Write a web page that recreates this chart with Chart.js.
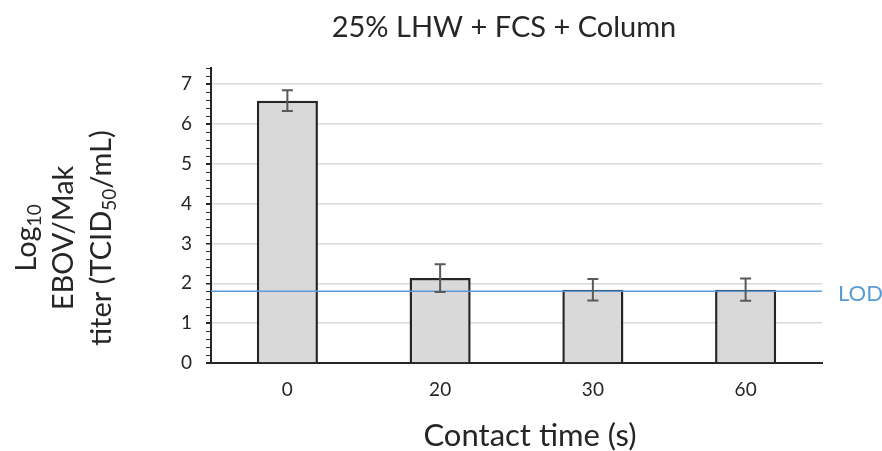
<!DOCTYPE html>
<html>
<head>
<meta charset="utf-8">
<script src="https://cdn.jsdelivr.net/npm/chart.js@4.4.1/dist/chart.umd.min.js"></script>
<style>
html,body{margin:0;padding:0;background:#fff;}
#wrap{width:882px;height:451px;position:relative;}
</style>
</head>
<body>
<div id="wrap"><canvas id="c" width="882" height="451"></canvas></div>
<script>
const categories = ['0', '20', '30', '60'];
const titerMeans = [6.58, 2.13, 1.84, 1.84];
const titerErrors = [0.26, 0.35, 0.27, 0.28];
const lodValue = 1.8;
const yMin = 0;
const yMax = 7.4;
const yStep = 1;
const yMinorStep = 0.2;
const chartTitle = '25% LHW + FCS + Column';
const xAxisTitle = 'Contact time (s)';
const yAxisTitleLines = [
  [{t: 'Log'}, {t: '10', sub: true}],
  [{t: 'EBOV/Mak'}],
  [{t: 'titer (TCID'}, {t: '50', sub: true}, {t: '/mL)'}]
];
const lodLabel = 'LOD';

const FONT = 'Lato, "Open Sans", "Liberation Sans", sans-serif';

function drawRich(ctx, segs, size) {
  const subSize = Math.round(size * 0.65);
  let total = 0;
  const widths = segs.map(s => {
    ctx.font = (s.sub ? subSize : size) + 'px ' + FONT;
    const w = ctx.measureText(s.t).width;
    total += w;
    return w;
  });
  let x = -total / 2;
  segs.forEach((s, i) => {
    ctx.font = (s.sub ? subSize : size) + 'px ' + FONT;
    ctx.fillText(s.t, x, s.sub ? size * 0.28 : 0);
    x += widths[i];
  });
}

const extras = {
  id: 'extras',
  afterDatasetsDraw(chart) {
    const ctx = chart.ctx;
    const y = chart.scales.y;
    const x = chart.scales.x;
    const area = chart.chartArea;
    ctx.save();
    // LOD line
    const ly = y.getPixelForValue(lodValue);
    ctx.strokeStyle = '#5b9bd5';
    ctx.lineWidth = 1.5;
    ctx.beginPath();
    ctx.moveTo(area.left, ly);
    ctx.lineTo(area.right, ly);
    ctx.stroke();
    // error bars
    ctx.strokeStyle = '#595959';
    ctx.lineWidth = 2;
    titerMeans.forEach((m, i) => {
      const cx = x.getPixelForValue(i);
      const top = y.getPixelForValue(m + titerErrors[i]);
      const bot = y.getPixelForValue(m - titerErrors[i]);
      ctx.beginPath();
      ctx.moveTo(cx, top); ctx.lineTo(cx, bot);
      ctx.moveTo(cx - 5.5, top); ctx.lineTo(cx + 5.5, top);
      ctx.moveTo(cx - 5.5, bot); ctx.lineTo(cx + 5.5, bot);
      ctx.stroke();
    });
    // minor ticks
    ctx.strokeStyle = '#262626';
    ctx.lineWidth = 1;
    for (let v = yMin; v <= yMax + 1e-9; v += yMinorStep) {
      const py = Math.round(y.getPixelForValue(v)) + 0.5;
      ctx.beginPath();
      ctx.moveTo(area.left - 5, py);
      ctx.lineTo(area.left, py);
      ctx.stroke();
    }
    // LOD label
    ctx.fillStyle = '#5b9bd5';
    ctx.font = '22px ' + FONT;
    ctx.textAlign = 'left';
    ctx.textBaseline = 'middle';
    ctx.fillText(lodLabel, area.right + 16, ly + 3);
    // titles
    ctx.fillStyle = '#262626';
    ctx.textAlign = 'center';
    ctx.font = '29px ' + FONT;
    ctx.fillText(chartTitle, 504, 28);
    ctx.font = '31px ' + FONT;
    ctx.fillText(xAxisTitle, 530, 436);
    // y title
    const xs = [27, 64, 102];
    ctx.textAlign = 'left';
    ctx.textBaseline = 'middle';
    yAxisTitleLines.forEach((segs, i) => {
      ctx.save();
      ctx.translate(xs[i], 238);
      ctx.rotate(-Math.PI / 2);
      drawRich(ctx, segs, 29);
      ctx.restore();
    });
    ctx.restore();
  }
};

new Chart(document.getElementById('c'), {
  type: 'bar',
  data: {
    labels: categories,
    datasets: [{
      data: titerMeans,
      backgroundColor: '#d9d9d9',
      borderColor: '#262626',
      borderWidth: 2.5,
      borderSkipped: 'bottom',
      categoryPercentage: 1,
      barPercentage: 0.4
    }]
  },
  options: {
    responsive: false,
    animation: false,
    layout: {padding: {top: 68, right: 60, left: 0, bottom: 0}},
    plugins: {legend: {display: false}, tooltip: {enabled: false}, title: {display: false}},
    scales: {
      x: {
        grid: {display: false, drawTicks: false},
        border: {color: '#262626', width: 2},
        ticks: {color: '#262626', font: {size: 19, family: FONT}, padding: 15},
        afterFit(s) { s.height = 88; }
      },
      y: {
        min: yMin,
        max: yMax,
        ticks: {stepSize: yStep, includeBounds: false, color: '#262626', font: {size: 19, family: FONT}, padding: 14},
        grid: {color: '#d9d9d9', lineWidth: 1.5, tickLength: 5, tickColor: '#262626'},
        border: {color: '#262626', width: 2},
        afterFit(s) { s.width = 211; }
      }
    }
  },
  plugins: [extras]
});
</script>
</body>
</html>
